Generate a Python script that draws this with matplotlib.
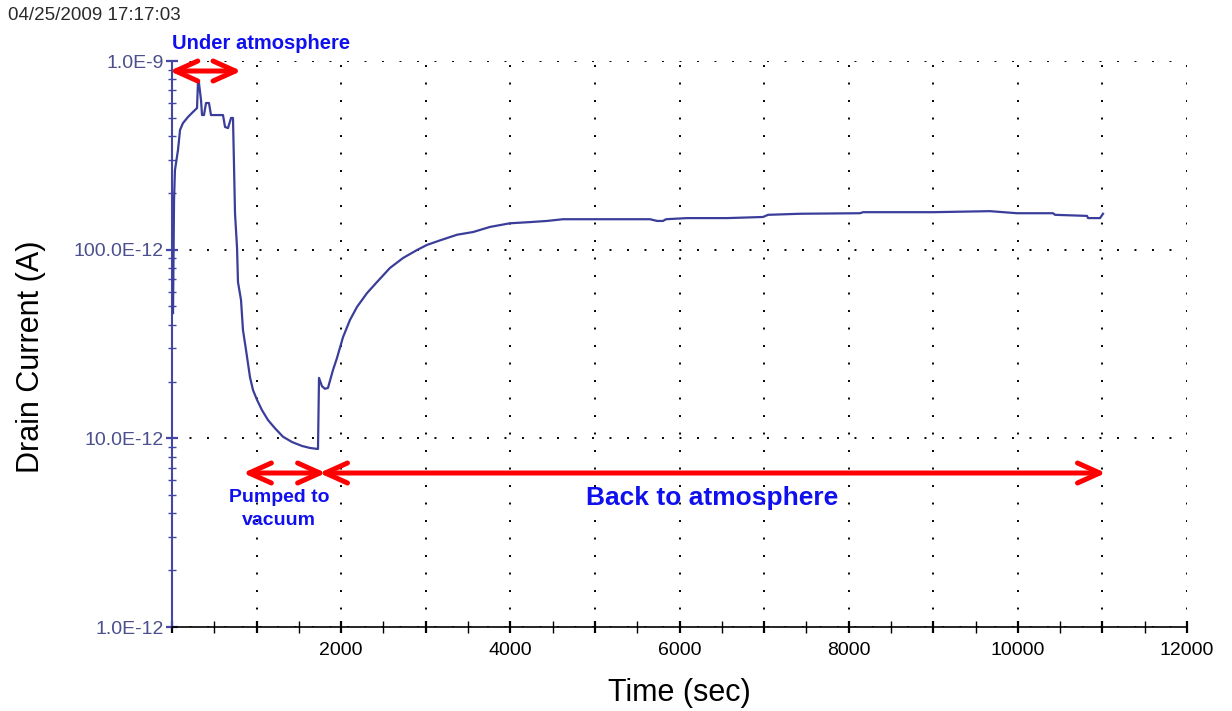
import numpy as np
import matplotlib
matplotlib.use('Agg')
import matplotlib.pyplot as plt
from matplotlib.ticker import FixedLocator, MultipleLocator, LogLocator, NullFormatter

plt.rcParams['font.family'] = ['Liberation Sans', 'DejaVu Sans']

# drain current trace (time in s, current in A)
time_s = [12, 24, 35, 71, 95, 130, 189, 248, 296, 307, 319, 343, 355, 378, 402, 437,
          461, 603, 627, 662, 698, 721, 733, 745, 769, 780, 816, 839, 875, 922, 958,
          1005, 1064, 1135, 1218, 1312, 1419, 1537, 1632, 1726, 1738, 1773, 1809, 1844,
          1903, 1951, 2022, 2104, 2187, 2306, 2424, 2577, 2731, 2897, 3015, 3169, 3370,
          3559, 3760, 3996, 4233, 4434, 4623, 4978, 5651, 5734, 5805, 5841, 6089, 6562,
          6987, 7047, 7425, 8134, 8170, 8726, 8997, 9671, 9990, 10416, 10440, 10818,
          10830, 10972, 11007]
current_A = [4.61e-11, 1.83e-10, 2.64e-10, 3.38e-10, 4.31e-10, 4.69e-10, 5.05e-10,
             5.37e-10, 5.63e-10, 7.74e-10, 7.64e-10, 6.21e-10, 5.17e-10, 5.17e-10,
             5.99e-10, 5.99e-10, 5.17e-10, 5.17e-10, 4.47e-10, 4.41e-10, 4.99e-10,
             4.99e-10, 2.81e-10, 1.56e-10, 1.02e-10, 6.74e-11, 5.41e-11, 3.75e-11,
             2.94e-11, 2.11e-11, 1.80e-11, 1.60e-11, 1.41e-11, 1.25e-11, 1.13e-11,
             1.02e-11, 9.56e-12, 9.11e-12, 8.89e-12, 8.78e-12, 2.09e-11, 1.89e-11,
             1.83e-11, 1.85e-11, 2.30e-11, 2.67e-11, 3.44e-11, 4.24e-11, 4.97e-11,
             5.89e-11, 6.74e-11, 8.00e-11, 9.03e-11, 9.96e-11, 1.06e-10, 1.12e-10,
             1.20e-10, 1.24e-10, 1.32e-10, 1.38e-10, 1.40e-10, 1.42e-10, 1.45e-10,
             1.45e-10, 1.45e-10, 1.42e-10, 1.42e-10, 1.45e-10, 1.47e-10, 1.47e-10,
             1.49e-10, 1.53e-10, 1.55e-10, 1.56e-10, 1.58e-10, 1.58e-10, 1.58e-10,
             1.60e-10, 1.56e-10, 1.56e-10, 1.53e-10, 1.51e-10, 1.47e-10, 1.47e-10,
             1.55e-10]

y_ticks = [1e-12, 1e-11, 1e-10, 1e-9]
y_tick_labels = ['1.0E-12', '10.0E-12', '100.0E-12', '1.0E-9']
x_ticks = list(range(0, 12001, 1000))
x_tick_labels = ['' if t == 0 or t % 2000 else str(t) for t in x_ticks]

# phase markers: (start, end, level)
phases = [(-30, 820, 8.85e-10), (840, 1820, 6.55e-12), (1740, 11040, 6.55e-12)]

trace_color = '#3a3e9a'
axis_blue = '#4446a6'
label_blue = '#4b4f8c'
note_blue = '#1010ee'

fig = plt.figure(figsize=(12.32, 7.11), dpi=100)
ax = fig.add_axes([172 / 1232, 84 / 711, 1015 / 1232, 566 / 711])

ax.plot(time_s, current_A, color=trace_color, lw=1.6, zorder=3)

ax.set_yscale('log')
ax.set_xlim(0, 12000)
ax.set_ylim(1e-12, 1e-9)

ax.xaxis.set_major_locator(FixedLocator(x_ticks))
ax.set_xticklabels(x_tick_labels)
ax.xaxis.set_minor_locator(MultipleLocator(500))
ax.yaxis.set_major_locator(FixedLocator(y_ticks))
ax.set_yticklabels(y_tick_labels)
ax.yaxis.set_minor_locator(LogLocator(subs=np.arange(2, 10)))
ax.yaxis.set_minor_formatter(NullFormatter())

ax.tick_params(axis='x', which='major', direction='inout', length=9, width=1.6,
               color='black', labelsize=14, pad=6)
ax.tick_params(axis='x', which='minor', direction='inout', length=8, width=1.0, color='black')
ax.tick_params(axis='y', which='major', direction='inout', length=8, width=1.6,
               color=axis_blue, labelsize=14, labelcolor=label_blue, pad=2)
ax.tick_params(axis='y', which='minor', direction='inout', length=6, width=1.0, color=axis_blue)

ax.grid(True, which='major', color='black', linestyle=(0, (1, 8)), linewidth=1.4)
ax.spines['top'].set_visible(False)
ax.spines['right'].set_visible(False)
ax.spines['left'].set_color(axis_blue)
ax.spines['left'].set_linewidth(1.5)
ax.spines['bottom'].set_color('black')
ax.spines['bottom'].set_linewidth(1.2)

ax.set_xlabel('Time (sec)', fontsize=22)
ax.xaxis.set_label_coords(0.5, -0.09)
ax.set_ylabel('Drain Current (A)', fontsize=22)
ax.yaxis.set_label_coords(-0.124, 0.477)

for t0, t1, level in phases:
    ax.annotate('', xy=(t1, level), xytext=(t0, level),
                arrowprops=dict(arrowstyle='<->, head_length=0.8, head_width=0.36',
                                color='red', lw=3.6, mutation_scale=20,
                                shrinkA=0, shrinkB=0),
                annotation_clip=False, zorder=4)

ax.text(0, 1.245e-9, 'Under atmosphere', color=note_blue, fontsize=14.5,
        fontweight='bold', ha='left', va='center', clip_on=False)
ax.text(1265, 4.22e-12, 'Pumped to\nvacuum', color=note_blue, fontsize=14,
        fontweight='bold', ha='center', va='center', linespacing=1.45)
ax.text(6385, 4.83e-12, 'Back to atmosphere', color=note_blue, fontsize=19,
        fontweight='bold', ha='center', va='center')

fig.text(8 / 1232, 1 - 15 / 711, '04/25/2009 17:17:03', color='#2a2a2a',
         fontsize=13.5, ha='left', va='center')

fig.savefig('out.png', dpi=100)
